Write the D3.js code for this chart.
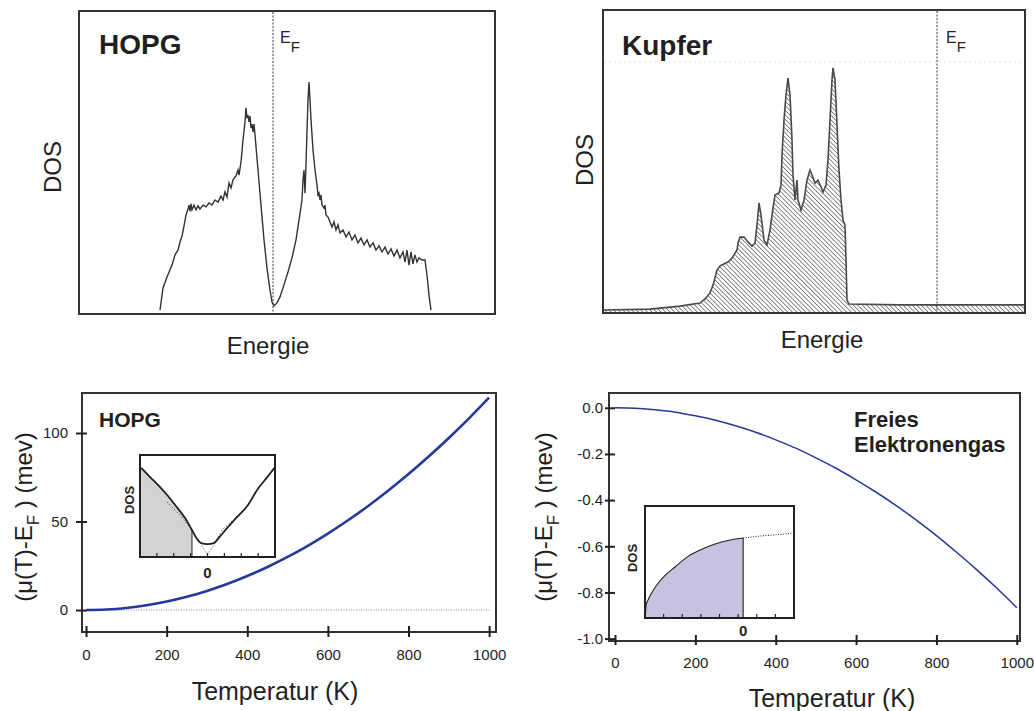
<!DOCTYPE html>
<html>
<head>
<meta charset="utf-8">
<script src="https://cdn.jsdelivr.net/npm/d3@7"></script>
<style>
  body { margin: 0; background: #fff; }
  text { font-family: "Liberation Sans", Arial, sans-serif; fill: #231f20; }
</style>
</head>
<body>
<svg id="fig" width="1034" height="711"></svg>
<script>
// ---- data ----
// HOPG density of states (energy relative to E_F, arbitrary DOS units)
const hopgEnergy = [-1.13, -1.10, -1.06, -1.01, -0.98, -0.95, -0.93, -0.91, -0.89, -0.87, -0.85, -0.84, -0.83, -0.82, -0.81, -0.79, -0.77, -0.75, -0.73, -0.70, -0.67, -0.64, -0.61, -0.58, -0.55, -0.52, -0.50, -0.48, -0.46, -0.44, -0.42, -0.40, -0.37, -0.35, -0.34, -0.32, -0.30, -0.28, -0.27, -0.26, -0.25, -0.24, -0.23, -0.22, -0.21, -0.20, -0.19, -0.18, -0.15, -0.12, -0.09, -0.06, -0.03, -0.01, 0.01, 0.04, 0.07, 0.11, 0.15, 0.19, 0.23, 0.26, 0.28, 0.29, 0.30, 0.31, 0.32, 0.33, 0.34, 0.35, 0.36, 0.37, 0.38, 0.40, 0.42, 0.44, 0.45, 0.46, 0.47, 0.48, 0.49, 0.51, 0.52, 0.53, 0.55, 0.57, 0.59, 0.61, 0.63, 0.65, 0.67, 0.70, 0.73, 0.76, 0.79, 0.82, 0.85, 0.88, 0.91, 0.94, 0.97, 1.00, 1.03, 1.06, 1.09, 1.12, 1.15, 1.18, 1.21, 1.24, 1.27, 1.30, 1.32, 1.34, 1.36, 1.38, 1.40, 1.42, 1.44, 1.46, 1.49, 1.52, 1.54, 1.56, 1.58];
const hopgDos = [0.13, 0.87, 1.23, 1.63, 1.97, 2.13, 2.40, 2.60, 2.93, 3.30, 3.50, 3.63, 3.43, 3.67, 3.47, 3.63, 3.47, 3.60, 3.50, 3.63, 3.57, 3.70, 3.63, 3.80, 3.73, 3.93, 3.80, 4.07, 3.90, 4.37, 4.20, 4.47, 4.60, 4.80, 4.63, 5.07, 5.80, 6.40, 6.87, 6.53, 6.63, 6.40, 6.60, 6.20, 6.33, 6.07, 6.33, 5.97, 4.80, 3.63, 2.47, 1.53, 0.80, 0.40, 0.27, 0.37, 0.57, 0.97, 1.40, 1.87, 2.47, 3.13, 3.57, 3.80, 4.47, 4.80, 4.03, 4.97, 6.13, 7.13, 7.73, 7.13, 6.47, 5.47, 4.80, 4.30, 3.97, 4.03, 3.80, 3.97, 3.63, 3.53, 3.63, 3.30, 3.23, 3.07, 2.90, 3.07, 2.80, 2.97, 2.70, 2.80, 2.57, 2.73, 2.47, 2.63, 2.37, 2.53, 2.30, 2.47, 2.23, 2.37, 2.13, 2.27, 2.07, 2.23, 2.00, 2.17, 1.93, 2.13, 1.87, 2.07, 1.73, 2.13, 1.63, 2.07, 1.67, 1.97, 1.73, 1.87, 1.80, 1.80, 1.30, 0.63, 0.13];

// Kupfer density of states
const cuEnergy = [-3.34, -2.87, -2.57, -2.37, -2.32, -2.27, -2.24, -2.22, -2.20, -2.17, -2.09, -2.05, -2.00, -1.99, -1.97, -1.93, -1.89, -1.85, -1.82, -1.80, -1.78, -1.76, -1.73, -1.70, -1.67, -1.64, -1.62, -1.58, -1.56, -1.55, -1.53, -1.51, -1.49, -1.47, -1.45, -1.44, -1.42, -1.40, -1.39, -1.36, -1.33, -1.30, -1.27, -1.25, -1.22, -1.19, -1.16, -1.14, -1.11, -1.09, -1.07, -1.05, -1.04, -1.02, -1.00, -0.98, -0.96, -0.94, -0.92, -0.91, -0.90, -0.88, -0.37, 0.88];
const cuDos = [0.10, 0.13, 0.23, 0.33, 0.47, 0.67, 0.93, 1.17, 1.43, 1.57, 1.70, 1.83, 2.10, 2.33, 2.53, 2.53, 2.37, 2.23, 2.33, 2.93, 3.67, 3.27, 2.43, 2.27, 2.77, 3.50, 3.93, 4.00, 4.27, 5.27, 6.43, 7.27, 7.83, 7.27, 5.77, 4.60, 3.77, 4.43, 3.77, 3.43, 3.77, 4.43, 4.77, 4.60, 4.33, 4.43, 4.20, 4.03, 4.27, 5.10, 6.43, 7.77, 8.17, 7.77, 6.27, 4.77, 3.77, 3.10, 2.93, 1.77, 0.43, 0.30, 0.27, 0.27];

// chemical potential shift vs temperature
const temps = [0, 50, 100, 150, 200, 250, 300, 350, 400, 450, 500, 550, 600, 650, 700, 750, 800, 850, 900, 950, 1000];
const hopgShift = [0, 0.3, 1.2, 2.7, 4.8, 7.5, 10.8, 14.7, 19.2, 24.3, 30.0, 36.3, 43.2, 50.7, 58.8, 67.5, 76.8, 86.7, 97.2, 108.3, 120.0];
const freeShift = [0, -0.002, -0.009, -0.019, -0.035, -0.054, -0.078, -0.106, -0.139, -0.175, -0.217, -0.262, -0.312, -0.366, -0.424, -0.487, -0.554, -0.626, -0.701, -0.781, -0.866];
const tempTicks = [0, 200, 400, 600, 800, 1000];
const hopgTicks = [0, 50, 100];
const freeTicks = [0, -0.2, -0.4, -0.6, -0.8, -1.0];

// insets: HOPG DOS around E_F (solid, dotted linear extrapolation)
const insetHopgE = [-3.93, -3.40, -2.81, -2.34, -1.92, -1.33, -0.92, -0.62, -0.38, 0, 0.38, 0.68, 1.09, 1.63, 2.40, 2.99, 3.58, 4.0];
const insetHopgD = [0.873, 0.784, 0.686, 0.598, 0.51, 0.382, 0.265, 0.176, 0.137, 0.127, 0.137, 0.19, 0.27, 0.37, 0.51, 0.67, 0.79, 0.882];
const insetHopgDotE = [-2.4, -1.63, -1.04, -0.44, 0, 0.38, 0.86, 1.63, 2.1];
const insetHopgDotD = [0.54, 0.41, 0.29, 0.137, 0.02, 0.118, 0.265, 0.38, 0.46];
const insetHopgFermi = -0.92;

// inset: free electron gas sqrt DOS
const insetFreeE = [0, 0.03, 0.05, 0.16, 0.38, 0.70, 1.08, 1.61, 2.31, 2.96, 3.76, 4.57, 5.27, 6.18, 7.26, 8.0];
const insetFreeD = [0.005, 0.054, 0.107, 0.16, 0.23, 0.31, 0.38, 0.455, 0.55, 0.607, 0.66, 0.696, 0.714, 0.732, 0.746, 0.759];
const insetFreeFermi = 5.27;

const ink = "#231f20";
const blue = "#26399a";
const svg = d3.select("#fig");
const zip = (a, b) => a.map((v, i) => [v, b[i]]);

// hatch pattern for the copper DOS
const defs = svg.append("defs");
const hatch = defs.append("pattern")
  .attr("id", "hatch")
  .attr("width", 3.2).attr("height", 3.2)
  .attr("patternUnits", "userSpaceOnUse")
  .attr("patternTransform", "rotate(-45)");
hatch.append("rect").attr("width", 3.2).attr("height", 3.2).attr("fill", "#fff");
hatch.append("line").attr("x1", 0).attr("y1", 0).attr("x2", 0).attr("y2", 3.2)
  .attr("stroke", "#666").attr("stroke-width", 1.5);

function fermiLabel(g, x, y) {
  const t = g.append("text").attr("x", x).attr("y", y).attr("font-size", 16);
  t.append("tspan").text("E");
  t.append("tspan").attr("dy", 9).attr("font-size", 15).text("F");
}

function dosLabel(g, x, y, size, bold) {
  g.append("text")
    .attr("transform", `translate(${x},${y}) rotate(-90)`)
    .attr("text-anchor", "middle")
    .attr("font-size", size)
    .attr("font-weight", bold ? "bold" : "normal")
    .text("DOS");
}

// ---- top left: HOPG DOS ----
{
  const x = d3.scaleLinear().domain([-1.94, 2.22]).range([79, 495]);
  const y = d3.scaleLinear().domain([0, 10.1]).range([314, 11]);
  const g = svg.append("g");
  g.append("rect").attr("x", 79).attr("y", 11).attr("width", 416).attr("height", 303)
    .attr("fill", "none").attr("stroke", "#333").attr("stroke-width", 2);
  g.append("line").attr("x1", x(0)).attr("x2", x(0)).attr("y1", 12).attr("y2", 314)
    .attr("stroke", ink).attr("stroke-width", 0.9).attr("stroke-dasharray", "2,1.5");
  g.append("path")
    .datum(zip(hopgEnergy, hopgDos))
    .attr("d", d3.line().x(d => x(d[0])).y(d => y(d[1])))
    .attr("fill", "none").attr("stroke", "#333").attr("stroke-width", 1.4);
  g.append("text").attr("x", 99).attr("y", 54).attr("font-size", 28).attr("font-weight", "bold").text("HOPG");
  fermiLabel(g, 280, 43);
  dosLabel(g, 61, 167, 24, false);
  g.append("text").attr("x", 268).attr("y", 354).attr("text-anchor", "middle").attr("font-size", 24).text("Energie");
}

// ---- top right: Kupfer DOS ----
{
  const x = d3.scaleLinear().domain([-3.34, 0.88]).range([603, 1025]);
  const y = d3.scaleLinear().domain([0, 10.1]).range([313, 10]);
  const g = svg.append("g");
  const pts = zip(cuEnergy, cuDos);
  g.append("path")
    .datum(pts)
    .attr("d", d3.area().x(d => x(d[0])).y0(y(0)).y1(d => y(d[1])))
    .attr("fill", "url(#hatch)");
  g.append("path")
    .datum(pts)
    .attr("d", d3.line().x(d => x(d[0])).y(d => y(d[1])))
    .attr("fill", "none").attr("stroke", "#4a4a4a").attr("stroke-width", 1.6);
  g.append("line").attr("x1", 604).attr("x2", 1024).attr("y1", 62).attr("y2", 62)
    .attr("stroke", "#e0e0e0").attr("stroke-width", 1).attr("stroke-dasharray", "2,3");
  g.append("rect").attr("x", 603).attr("y", 10).attr("width", 422).attr("height", 303)
    .attr("fill", "none").attr("stroke", "#333").attr("stroke-width", 2);
  g.append("line").attr("x1", x(0)).attr("x2", x(0)).attr("y1", 11).attr("y2", 313)
    .attr("stroke", ink).attr("stroke-width", 0.9).attr("stroke-dasharray", "2,1.5");
  g.append("text").attr("x", 622).attr("y", 55).attr("font-size", 28).attr("font-weight", "bold").text("Kupfer");
  fermiLabel(g, 946, 43);
  dosLabel(g, 593, 160, 24, false);
  g.append("text").attr("x", 822).attr("y", 348).attr("text-anchor", "middle").attr("font-size", 24).text("Energie");
}

// shared y label for mu(T)-E_F
function shiftLabel(g, x, y) {
  const t = g.append("text")
    .attr("transform", `translate(${x},${y}) rotate(-90)`)
    .attr("text-anchor", "middle")
    .attr("font-size", 24);
  t.append("tspan").text("(\u03bc(T)-E");
  t.append("tspan").attr("dy", 7).attr("font-size", 17).text("F");
  t.append("tspan").attr("dy", -7).text(" ) (mev)");
}

function styleAxis(sel, lo, hi, horizontal) {
  sel.select(".domain").remove();
  sel.selectAll(".tick line")
    .attr(horizontal ? "y1" : "x1", lo)
    .attr(horizontal ? "y2" : "x2", hi)
    .attr("stroke", ink).attr("stroke-width", 2);
  sel.selectAll(".tick text")
    .attr("font-family", "Liberation Sans, Arial, sans-serif")
    .attr("font-size", 15).attr("fill", ink);
}

// ---- bottom left: HOPG mu(T) ----
{
  const x = d3.scaleLinear().domain([-10, 1017]).range([82, 496]);
  const y = d3.scaleLinear().domain([-12.4, 122.6]).range([632, 393]);
  const g = svg.append("g");
  g.append("line").attr("x1", x(0)).attr("x2", x(1000)).attr("y1", y(0)).attr("y2", y(0))
    .attr("stroke", "#555").attr("stroke-width", 0.7).attr("stroke-dasharray", "1,1.5");
  g.append("path")
    .attr("d", `M82,632V393H496V632Z`)
    .attr("fill", "none").attr("stroke", "#333").attr("stroke-width", 2);
  g.append("g").attr("transform", "translate(0,632)")
    .call(d3.axisBottom(x).tickValues(tempTicks).tickSize(0).tickPadding(17).tickFormat(d3.format("d")))
    .call(s => styleAxis(s, -6, 5, true));
  g.append("g").attr("transform", "translate(82,0)")
    .call(d3.axisLeft(y).tickValues(hopgTicks).tickSize(0).tickPadding(14))
    .call(s => styleAxis(s, -6, 5, false));
  g.append("path")
    .datum(zip(temps, hopgShift))
    .attr("d", d3.line().curve(d3.curveMonotoneX).x(d => x(d[0])).y(d => y(d[1])))
    .attr("fill", "none").attr("stroke", blue).attr("stroke-width", 2.6);
  g.append("text").attr("x", 99).attr("y", 427).attr("font-size", 21).attr("font-weight", "bold").text("HOPG");
  shiftLabel(g, 32, 517);
  g.append("text").attr("x", 275).attr("y", 700).attr("text-anchor", "middle").attr("font-size", 25).text("Temperatur (K)");

  // inset
  const xi = d3.scaleLinear().domain([-4, 4]).range([140, 275]);
  const yi = d3.scaleLinear().domain([0, 1]).range([557, 455]);
  const ig = g.append("g");
  ig.append("rect").attr("x", 140).attr("y", 455).attr("width", 135).attr("height", 102).attr("fill", "#fff");
  const solid = zip(insetHopgE, insetHopgD);
  ig.append("path")
    .datum(solid.filter(d => d[0] <= insetHopgFermi))
    .attr("d", d3.area().x(d => xi(d[0])).y0(yi(0)).y1(d => yi(d[1])))
    .attr("fill", "#d1d3d4");
  ig.append("line").attr("x1", xi(insetHopgFermi)).attr("x2", xi(insetHopgFermi))
    .attr("y1", yi(0)).attr("y2", yi(0.265)).attr("stroke", ink).attr("stroke-width", 1);
  ig.append("path")
    .datum(zip(insetHopgDotE, insetHopgDotD))
    .attr("d", d3.line().x(d => xi(d[0])).y(d => yi(d[1])))
    .attr("fill", "none").attr("stroke", ink).attr("stroke-width", 1).attr("stroke-dasharray", "1,2.5");
  ig.append("path")
    .datum(solid)
    .attr("d", d3.line().curve(d3.curveMonotoneX).x(d => xi(d[0])).y(d => yi(d[1])))
    .attr("fill", "none").attr("stroke", ink).attr("stroke-width", 1.8);
  ig.selectAll(".itick").data(d3.range(-3, 4)).join("line")
    .attr("x1", d => xi(d)).attr("x2", d => xi(d)).attr("y1", 557).attr("y2", 553)
    .attr("stroke", ink).attr("stroke-width", 1.2);
  ig.append("rect").attr("x", 140).attr("y", 455).attr("width", 135).attr("height", 102)
    .attr("fill", "none").attr("stroke", ink).attr("stroke-width", 2);
  ig.append("text").attr("x", xi(0)).attr("y", 578).attr("text-anchor", "middle")
    .attr("font-size", 15).attr("font-weight", "bold").text("0");
  dosLabel(ig, 134, 500, 13, true);
}

// ---- bottom right: free electron gas mu(T) ----
{
  const x = d3.scaleLinear().domain([-15, 1008]).range([609, 1020]);
  const y = d3.scaleLinear().domain([-1.0104, 0.064]).range([641, 393]);
  const g = svg.append("g");
  g.append("path")
    .attr("d", `M609,641V393H1020V641Z`)
    .attr("fill", "none").attr("stroke", "#333").attr("stroke-width", 2);
  g.append("g").attr("transform", "translate(0,641)")
    .call(d3.axisBottom(x).tickValues(tempTicks).tickSize(0).tickPadding(16).tickFormat(d3.format("d")))
    .call(s => styleAxis(s, -6, 4, true));
  g.append("g").attr("transform", "translate(609,0)")
    .call(d3.axisLeft(y).tickValues(freeTicks).tickSize(0).tickPadding(6).tickFormat(d => d.toFixed(1)))
    .call(s => styleAxis(s, -4, 6, false));
  g.append("path")
    .datum(zip(temps, freeShift))
    .attr("d", d3.line().curve(d3.curveMonotoneX).x(d => x(d[0])).y(d => y(d[1])))
    .attr("fill", "none").attr("stroke", blue).attr("stroke-width", 1.5);
  g.append("text").attr("x", 854).attr("y", 427).attr("font-size", 22).attr("font-weight", "bold").text("Freies");
  g.append("text").attr("x", 854).attr("y", 452).attr("font-size", 22).attr("font-weight", "bold").text("Elektronengas");
  shiftLabel(g, 552, 517);
  g.append("text").attr("x", 832).attr("y", 707).attr("text-anchor", "middle").attr("font-size", 25).text("Temperatur (K)");

  // inset
  const xi = d3.scaleLinear().domain([0, 8]).range([645, 794]);
  const yi = d3.scaleLinear().domain([0, 1]).range([618, 506]);
  const ig = g.append("g");
  ig.append("rect").attr("x", 645).attr("y", 506).attr("width", 149).attr("height", 112).attr("fill", "#fff");
  const pts = zip(insetFreeE, insetFreeD);
  const filled = pts.filter(d => d[0] <= insetFreeFermi);
  ig.append("path")
    .datum(filled)
    .attr("d", d3.area().curve(d3.curveMonotoneX).x(d => xi(d[0])).y0(yi(0)).y1(d => yi(d[1])))
    .attr("fill", "#c5c3df");
  ig.append("path")
    .datum(filled)
    .attr("d", d3.line().curve(d3.curveMonotoneX).x(d => xi(d[0])).y(d => yi(d[1])))
    .attr("fill", "none").attr("stroke", ink).attr("stroke-width", 1.1);
  ig.append("path")
    .datum(pts.filter(d => d[0] >= insetFreeFermi))
    .attr("d", d3.line().x(d => xi(d[0])).y(d => yi(d[1])))
    .attr("fill", "none").attr("stroke", ink).attr("stroke-width", 1).attr("stroke-dasharray", "1,1.5");
  ig.append("line").attr("x1", xi(insetFreeFermi)).attr("x2", xi(insetFreeFermi))
    .attr("y1", yi(0)).attr("y2", yi(0.714)).attr("stroke", ink).attr("stroke-width", 1.1);
  ig.selectAll(".itick").data(d3.range(1, 8)).join("line")
    .attr("x1", d => xi(d)).attr("x2", d => xi(d)).attr("y1", 618).attr("y2", 614)
    .attr("stroke", ink).attr("stroke-width", 1.2);
  ig.append("rect").attr("x", 645).attr("y", 506).attr("width", 149).attr("height", 112)
    .attr("fill", "none").attr("stroke", ink).attr("stroke-width", 2);
  ig.append("text").attr("x", xi(insetFreeFermi)).attr("y", 636).attr("text-anchor", "middle")
    .attr("font-size", 15).attr("font-weight", "bold").text("0");
  dosLabel(ig, 637, 558, 13, true);
}
</script>
</body>
</html>
